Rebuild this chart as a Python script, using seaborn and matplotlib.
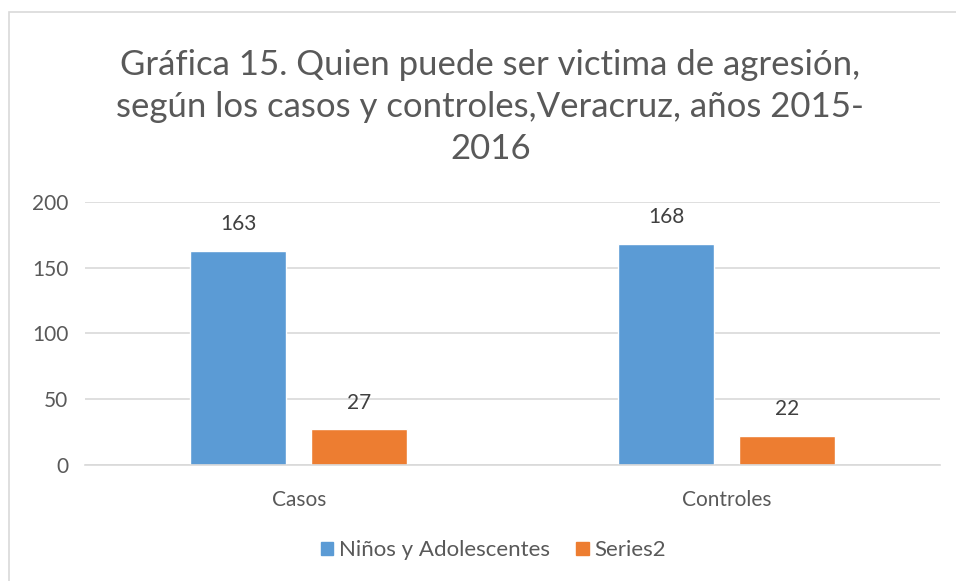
import matplotlib.pyplot as plt
import matplotlib.patches as mpatches
import seaborn as sns
import pandas as pd

categories = ["Casos", "Controles"]
series_names = ["Niños y Adolescentes", "Series2"]
ninos = [163, 168]
series2 = [27, 22]
colors = ["#5B9BD5", "#ED7D31"]

df = pd.DataFrame({
    "grupo": categories * 2,
    "serie": [series_names[0]] * 2 + [series_names[1]] * 2,
    "valor": ninos + series2,
})

sns.set_style("white")
plt.rcParams["font.family"] = ["Lato", "DejaVu Sans"]

fig = plt.figure(figsize=(9.56, 5.81), dpi=100)
ax = fig.add_axes([0.0889, 0.1997, 0.8946, 0.4526])

sns.barplot(data=df, x="grupo", y="valor", hue="serie", palette=colors,
            width=0.566, gap=0.207, saturation=1, ax=ax, legend=False)

ax.set_ylim(0, 200)
ax.set_yticks([0, 50, 100, 150, 200])
ax.set_xlim(-0.5, 1.5)
ax.yaxis.grid(True, color="#D9D9D9", linewidth=1.2)
ax.set_axisbelow(True)
for s in ax.spines.values():
    s.set_visible(False)
ax.spines["bottom"].set_visible(True)
ax.spines["bottom"].set_color("#D9D9D9")
ax.spines["bottom"].set_linewidth(1.2)
ax.tick_params(axis="both", length=0, labelsize=15, colors="#595959", pad=12)
ax.tick_params(axis="x", pad=18)
ax.set_xlabel("")
ax.set_ylabel("")

for cont in ax.containers:
    ax.bar_label(cont, padding=12, fontsize=15, color="#404040")

fig.text(0.513, 0.816, "Gráfica 15. Quien puede ser victima de agresión,\n"
         "según los casos y controles,Veracruz, años 2015-\n2016",
         ha="center", va="center", fontsize=25, color="#595959", linespacing=1.4)

handles = [mpatches.Patch(color=c, label=n) for c, n in zip(colors, series_names)]
fig.legend(handles=handles, loc="center", bbox_to_anchor=(0.516, 0.053), ncol=2,
           frameon=False, fontsize=16, labelcolor="#595959",
           handlelength=0.55, handleheight=0.55, handletextpad=0.25, columnspacing=1.2)

fig.patches.append(mpatches.Rectangle((9 / 956, -0.05), 1.1, 1 - 12 / 581 + 0.05,
                                      transform=fig.transFigure, fill=False,
                                      edgecolor="#D9D9D9", linewidth=1.2))

fig.savefig("out.png", dpi=100)
